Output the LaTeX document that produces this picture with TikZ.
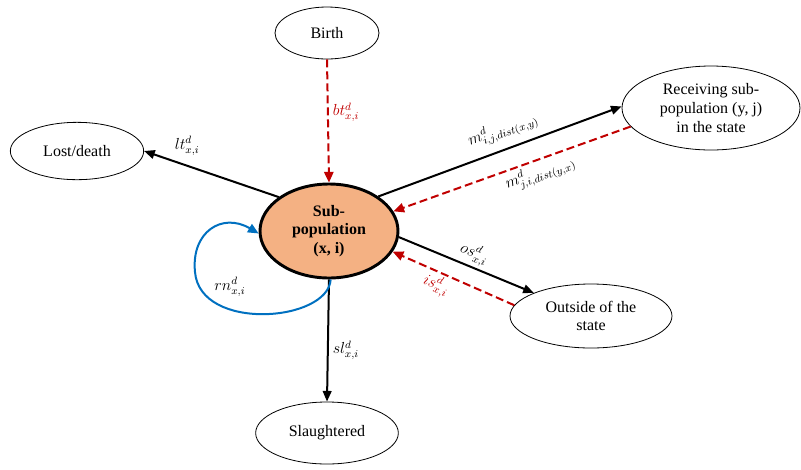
\documentclass[tikz,border=0pt]{standalone}
\usepackage{fontspec}
\setmainfont{Liberation Serif}
\usetikzlibrary{shapes.geometric,arrows.meta}
\definecolor{subfill}{HTML}{F4B183}
\definecolor{inred}{HTML}{C00000}
\definecolor{loopblue}{HTML}{0070C0}

\begin{document}
\begin{tikzpicture}[x=0.75pt,y=-0.75pt,
    state/.style={shape=ellipse,draw=black,line width=0.6pt,align=center,inner sep=0pt,font=\fontsize{12}{14}\selectfont},
    rate/.style={font=\fontsize{11.5}{13}\selectfont,inner sep=2pt},
    outflow/.style={-{Triangle[length=8pt,width=6.5pt]},line width=1.5pt},
    inflow/.style={-{Triangle[length=8pt,width=7pt]},line width=1.5pt,color=inred,dash pattern=on 6pt off 3pt},
    loopflow/.style={-{Triangle[length=8pt,width=7pt]},line width=1.5pt,color=loopblue}]
    \useasboundingbox (0,0) rectangle (801,469);
        \node[state,minimum width=78pt,minimum height=39pt] (birth) at (327,33) {Birth};
        \node[state,minimum width=100pt,minimum height=43pt] (lost) at (77,151) {Lost/death};
        \node[state,minimum width=133.5pt,minimum height=63pt] (recv) at (711,108) {Receiving sub-\\population (y, j)\\in the state};
        \node[state,minimum width=121.5pt,minimum height=48pt] (out) at (591,316) {Outside of the\\state};
        \node[state,minimum width=107pt,minimum height=46.5pt] (slau) at (327,433) {Slaughtered};
        \node[state,line width=2.2pt,fill=subfill,minimum width=103.5pt,minimum height=70.5pt,font=\fontsize{12}{14}\selectfont\bfseries] (sub) at (329,231) {Sub-\\population\\(x, i)};
        \path [inflow] (birth.south) edge node[rate,pos=0.43,right=1pt]{$bt^{d}_{x,i}$}(sub.north);
        \path [outflow] (sub.146) edge node[rate,pos=0.68,above=5pt]{$lt^{d}_{x,i}$}(lost.0);
        \path [outflow] (sub.35) edge node[rate,pos=0.54,sloped,above=4pt]{$m^{d}_{i,j,dist(x,y)}$}(recv.179);
        \path [inflow] (recv.193) edge node[rate,pos=0.4,sloped,below=0pt,text=black]{$m^{d}_{j,i,dist(y,x)}$}(sub.17);
        \path [outflow] (sub.-5) edge node[rate,pos=0.52,sloped,above=0pt]{$os^{d}_{x,i}$}(out.158);
        \path [inflow] (out.172) edge node[rate,pos=0.6,sloped,below=0pt]{$is^{d}_{x,i}$}(sub.-18);
        \path [outflow] (sub.south) edge node[rate,pos=0.58,right=1pt]{$sl^{d}_{x,i}$}(slau.north);
        \draw [loopflow] (sub.272) .. controls (328,322) and (200,332) .. (195,272)
            node[rate,pos=0.8,anchor=south west,text=black]{$rn^{d}_{x,i}$}
            .. controls (191,232) and (222,212) .. (sub.182);
    \end{tikzpicture}
\end{document}
